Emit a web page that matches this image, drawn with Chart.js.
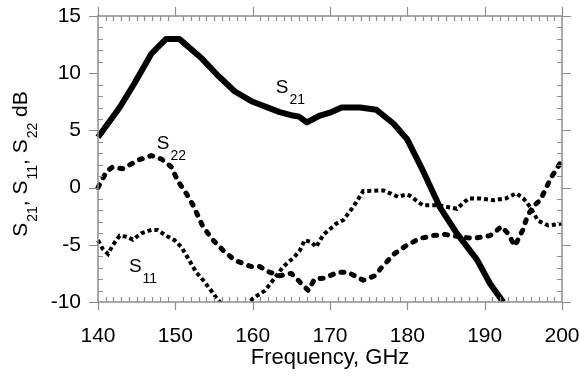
<!DOCTYPE html>
<html>
<head>
<meta charset="utf-8">
<script src="https://cdn.jsdelivr.net/npm/chart.js@4.4.1/dist/chart.umd.min.js"></script>
<style>
  body { margin: 0; background: #fff; }
  #wrap { width: 580px; height: 377px; position: relative; }
</style>
</head>
<body>
<div id="wrap"><canvas id="myChart"></canvas></div>
<script>
"use strict";

// S21 (thick solid)
const s21Freq = [140, 142.8, 144.7, 146.9, 148.8, 150.5, 153.4, 155.5, 157.7, 160, 163.5, 165.2, 166, 167, 168.7, 170.2, 171.5, 173.9, 176, 178.2, 180, 182, 184.2, 186.4, 189, 190.7, 192.4];
const s21Db   = [4.4, 7.0, 9.1, 11.7, 13.0, 13.0, 11.3, 9.8, 8.4, 7.5, 6.6, 6.3, 6.2, 5.7, 6.3, 6.6, 7.0, 7.0, 6.8, 5.6, 4.2, 1.5, -1.7, -4.0, -6.3, -8.4, -10];

// S22 (thick dashed)
const s22Freq = [140, 141.1, 141.9, 143.2, 145.2, 146.9, 148.2, 149.5, 150.3, 151.4, 152.3, 153.6, 154.9, 156.2, 157.7, 159.8, 160.9, 162.2, 163.5, 165, 166.1, 167.2, 168, 169.3, 171, 172.3, 174.3, 175.8, 176.9, 178.3, 179.9, 181.6, 183.3, 184.9, 186.8, 188.5, 190.7, 192.2, 193, 193.9, 194.9, 195.5, 196.3, 197.2, 197.9, 198.6, 199.2, 200];
const s22Db   = [0, 1.4, 1.8, 1.65, 2.4, 2.8, 2.5, 1.8, 0.6, -0.5, -1.55, -3.45, -4.6, -5.5, -6.35, -6.9, -6.9, -7.4, -7.7, -7.5, -8.25, -9.0, -8.0, -7.9, -7.4, -7.4, -8.1, -7.7, -6.8, -5.8, -5.05, -4.45, -4.2, -4.1, -4.3, -4.45, -4.2, -3.4, -4.0, -5.1, -3.75, -2.55, -1.6, -1.1, -0.1, 0.9, 1.5, 2.4];

// S11 (thin dotted)
const s11Freq = [140, 140.6, 141.3, 141.9, 142.8, 143.7, 144.5, 145.6, 146.9, 147.7, 148.8, 149.9, 150.8, 151.8, 152.7, 153.6, 154.4, 155.5, 157.8, 160, 161.6, 162.8, 163.9, 165.4, 166.1, 166.7, 167.6, 168.2, 169.1, 170.8, 171.7, 173, 174.3, 176.9, 178.8, 179.9, 180.3, 182, 184, 186.4, 187.9, 189.4, 191.1, 192.7, 194.1, 195, 195.9, 196.9, 198.2, 200];
const s11Db   = [-4.6, -5.35, -5.8, -5.05, -4.2, -4.3, -4.55, -4.0, -3.7, -3.7, -4.2, -4.6, -5.2, -6.35, -7.4, -8.1, -8.8, -9.8, -11.5, -9.7, -9.0, -7.95, -6.95, -6.05, -5.5, -4.6, -4.75, -5.2, -4.15, -3.15, -2.85, -1.7, -0.3, -0.25, -0.8, -0.6, -0.7, -1.55, -1.55, -1.85, -0.95, -0.95, -1.1, -0.95, -0.5, -0.95, -1.7, -2.9, -3.3, -3.15];

// axis ranges / ticks
const xRange = [140, 200];
const yRange = [-10, 15];
const xStep = 10;
const yStep = 5;

// in-plot curve labels: [main, subscript, freq, dB]
const curveLabels = [
    ["S", "21", 163.0, 8.3],
    ["S", "22", 147.6, 3.4],
    ["S", "11", 144.0, -7.35]
];
const yTitle = [["S", "21"], [", S", "11"], [", S", "22"], [" dB", ""]];

const FONT = "'Liberation Sans', Arial, sans-serif";

const toPoints = (xs, ys) => xs.map((v, i) => ({ x: v, y: ys[i] }));

const drawSub = (ctx, parts, x, y, mainSize, subSize, subDrop) => {
    let cx = x;
    parts.forEach(([main, sub]) => {
        ctx.font = mainSize + "px " + FONT;
        ctx.fillText(main, cx, y);
        cx += ctx.measureText(main).width;
        if (sub) {
            ctx.font = subSize + "px " + FONT;
            ctx.fillText(sub, cx + 1, y + subDrop);
            cx += ctx.measureText(sub).width + 1;
        }
    });
    return cx - x;
};

const subWidth = (ctx, parts, mainSize, subSize) => {
    let w = 0;
    parts.forEach(([main, sub]) => {
        ctx.font = mainSize + "px " + FONT;
        w += ctx.measureText(main).width;
        if (sub) {
            ctx.font = subSize + "px " + FONT;
            w += ctx.measureText(sub).width + 1;
        }
    });
    return w;
};

const frame = {
    id: "frame",
    afterDatasetsDraw(chart) {
        const { ctx, chartArea: a, scales: { x, y } } = chart;
        ctx.save();
        ctx.strokeStyle = "#8e8e8e";
        ctx.lineWidth = 1.5;
        ctx.strokeRect(a.left, a.top, a.width, a.height);
        ctx.lineWidth = 1.2;
        ctx.beginPath();
        for (let v = xRange[0]; v <= xRange[1]; v++) {
            const px = Math.round(x.getPixelForValue(v)) + 0.5;
            if (v % xStep === 0) {
                ctx.moveTo(px, a.bottom); ctx.lineTo(px, a.bottom + 8);
                ctx.moveTo(px, a.top); ctx.lineTo(px, a.top - 9);
            } else {
                ctx.moveTo(px, a.bottom); ctx.lineTo(px, a.bottom - 5);
                ctx.moveTo(px, a.top); ctx.lineTo(px, a.top + 5);
            }
        }
        for (let v = yRange[0]; v <= yRange[1]; v++) {
            const py = Math.round(y.getPixelForValue(v)) + 0.5;
            if (v % yStep === 0) {
                ctx.moveTo(a.left, py); ctx.lineTo(a.left - 9, py);
                ctx.moveTo(a.right, py); ctx.lineTo(a.right + 9, py);
            } else {
                ctx.moveTo(a.left, py); ctx.lineTo(a.left + 5, py);
                ctx.moveTo(a.right, py); ctx.lineTo(a.right - 5, py);
            }
        }
        ctx.stroke();

        // curve labels
        ctx.fillStyle = "#000";
        ctx.textBaseline = "alphabetic";
        ctx.textAlign = "left";
        curveLabels.forEach(([m, s, fx, fy]) => {
            drawSub(ctx, [[m, s]], x.getPixelForValue(fx), y.getPixelForValue(fy), 19, 14, 11);
        });

        // y axis title, rotated
        const w = subWidth(ctx, yTitle, 21, 14);
        ctx.translate(27, (a.top + a.bottom) / 2 + 5);
        ctx.rotate(-Math.PI / 2);
        drawSub(ctx, yTitle, -w / 2, 0, 21, 14, 10);
        ctx.restore();
    }
};

const ctx = document.getElementById("myChart");

new Chart(ctx, {
    type: "line",
    data: {
        datasets: [{
            label: "S21",
            data: toPoints(s21Freq, s21Db),
            borderColor: "#000",
            borderWidth: 6,
            borderJoinStyle: "round",
            pointRadius: 0,
            clip: { left: 6, right: 6, top: 6, bottom: 0 }
        }, {
            label: "S22",
            data: toPoints(s22Freq, s22Db),
            borderColor: "#000",
            borderWidth: 5,
            borderDash: [3, 8],
            borderCapStyle: "round",
            borderJoinStyle: "round",
            pointRadius: 0,
            clip: { left: 6, right: 6, top: 6, bottom: 0 }
        }, {
            label: "S11",
            data: toPoints(s11Freq, s11Db),
            borderColor: "#000",
            borderWidth: 4,
            borderDash: [4, 3],
            pointRadius: 0,
            clip: { left: 6, right: 6, top: 6, bottom: 0 }
        }]
    },
    options: {
        responsive: true,
        maintainAspectRatio: false,
        animation: false,
        events: [],
        layout: { padding: { left: 0, right: 18, top: 16, bottom: 0 } },
        plugins: {
            legend: { display: false },
            tooltip: { enabled: false }
        },
        scales: {
            x: {
                type: "linear",
                min: xRange[0],
                max: xRange[1],
                grid: { display: false },
                border: { display: false },
                ticks: {
                    stepSize: xStep,
                    color: "#000",
                    padding: 14,
                    font: { family: FONT, size: 21 }
                },
                title: {
                    display: true,
                    text: "Frequency, GHz",
                    color: "#000",
                    font: { family: FONT, size: 22 },
                    padding: { top: 0, bottom: 6 }
                },
                afterFit: (scale) => {
                    scale.height = 75;
                    scale.paddingLeft = 0;
                    scale.paddingRight = 0;
                }
            },
            y: {
                min: yRange[0],
                max: yRange[1],
                grid: { display: false },
                border: { display: false },
                ticks: {
                    stepSize: yStep,
                    color: "#000",
                    padding: 9,
                    font: { family: FONT, size: 21 }
                },
                afterFit: (scale) => {
                    scale.width = 98;
                    scale.paddingTop = 0;
                    scale.paddingBottom = 0;
                }
            }
        }
    },
    plugins: [frame]
});
</script>
</body>
</html>
